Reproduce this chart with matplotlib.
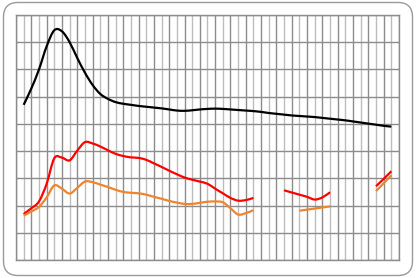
import matplotlib
matplotlib.use("Agg")
import matplotlib.pyplot as plt
from matplotlib.patches import FancyBboxPatch, PathPatch
from matplotlib.path import Path
import numpy as np

x_black = list(range(1, 50))
black = [5.70, 6.30, 7.00, 7.85, 8.44, 8.40, 8.00, 7.42, 6.88, 6.43,
         6.10, 5.92, 5.80, 5.74, 5.70, 5.66, 5.63, 5.60, 5.57, 5.53,
         5.49, 5.48, 5.50, 5.53, 5.55, 5.56, 5.55, 5.53, 5.51, 5.49,
         5.47, 5.44, 5.40, 5.37, 5.34, 5.31, 5.29, 5.27, 5.25, 5.22,
         5.19, 5.16, 5.13, 5.09, 5.05, 5.01, 4.97, 4.93, 4.90]

nan = float('nan')
x_all = list(range(1, 50))
red = [1.69, 1.90, 2.15, 2.80, 3.74, 3.76, 3.66, 4.02, 4.33, 4.28,
       4.17, 4.03, 3.90, 3.82, 3.77, 3.75, 3.68, 3.55, 3.42, 3.28,
       3.15, 3.03, 2.95, 2.88, 2.80, 2.62, 2.45, 2.28, 2.18, 2.20,
       2.28, nan, nan, nan, 2.56, 2.48, 2.40, 2.32, 2.22, 2.30,
       2.49, nan, nan, nan, nan, nan, 2.71, 2.98, 3.26]
orange = [1.63, 1.78, 1.95, 2.30, 2.74, 2.62, 2.44, 2.65, 2.88, 2.86,
          2.77, 2.68, 2.58, 2.50, 2.47, 2.45, 2.40, 2.32, 2.25, 2.17,
          2.11, 2.06, 2.06, 2.10, 2.14, 2.15, 2.12, 1.90, 1.67, 1.72,
          1.83, nan, nan, nan, nan, nan, 1.81, 1.85, 1.89, 1.93,
          1.97, nan, nan, nan, nan, nan, 2.53, 2.82, 3.11]


def smooth_path(xs, ys):
    """Build a smooth (Catmull-Rom style) Bezier path through each run of valid data."""
    verts, codes = [], []
    xs = np.asarray(xs, float)
    ys = np.asarray(ys, float)
    valid = ~np.isnan(ys)
    runs, cur = [], []
    for i, v in enumerate(valid):
        if v:
            cur.append(i)
        elif cur:
            runs.append(cur)
            cur = []
    if cur:
        runs.append(cur)
    for run in runs:
        px = xs[run]
        py = ys[run]
        n = len(run)
        verts.append((px[0], py[0]))
        codes.append(Path.MOVETO)
        for k in range(n - 1):
            km = max(k - 1, 0)
            kp = min(k + 2, n - 1)
            c1 = (px[k] + (px[k + 1] - px[km]) / 6, py[k] + (py[k + 1] - py[km]) / 6)
            c2 = (px[k + 1] - (px[kp] - px[k]) / 6, py[k + 1] - (py[kp] - py[k]) / 6)
            verts += [c1, c2, (px[k + 1], py[k + 1])]
            codes += [Path.CURVE4] * 3
    return Path(verts, codes)


W, H = 416, 278
fig = plt.figure(figsize=(W / 100, H / 100), dpi=100)
fig.patch.set_facecolor('white')

border = FancyBboxPatch((3.5 / W, 2.5 / H), (W - 7) / W, (H - 5) / H,
                        boxstyle="round,pad=0,rounding_size=0.035",
                        transform=fig.transFigure, facecolor='white',
                        edgecolor='#999999', linewidth=1.0,
                        mutation_aspect=W / H, zorder=-5)
fig.patches.append(border)

ax = fig.add_axes([16 / W, 1 - 260 / H, (399 - 16) / W, (260 - 15) / H])
ax.set_zorder(5)
ax.set_facecolor('none')
ax.set_xlim(0, 50)
ax.set_ylim(0, 9)
ax.set_xticks(np.arange(0, 51, 2))
ax.set_xticks(np.arange(1, 50, 2), minor=True)
ax.set_yticks(np.arange(0, 10, 1))
ax.grid(True, which='major', axis='both', color='#8c8c8c', linewidth=1.0)
ax.grid(True, which='minor', axis='x', color='#bdbdbd', linewidth=1.0)
ax.tick_params(which='both', length=0, labelbottom=False, labelleft=False)
for s in ax.spines.values():
    s.set_color('#8c8c8c')
    s.set_linewidth(1.0)
ax.set_axisbelow(True)

for xs, ys, col in [(x_black, black, 'black'),
                    (x_all, red, '#ff0000'),
                    (x_all, orange, '#f0842c')]:
    ax.add_patch(PathPatch(smooth_path(xs, ys), facecolor='none',
                           edgecolor=col, linewidth=1.6,
                           joinstyle='round', capstyle='butt'))

fig.savefig('out.png', dpi=100)
